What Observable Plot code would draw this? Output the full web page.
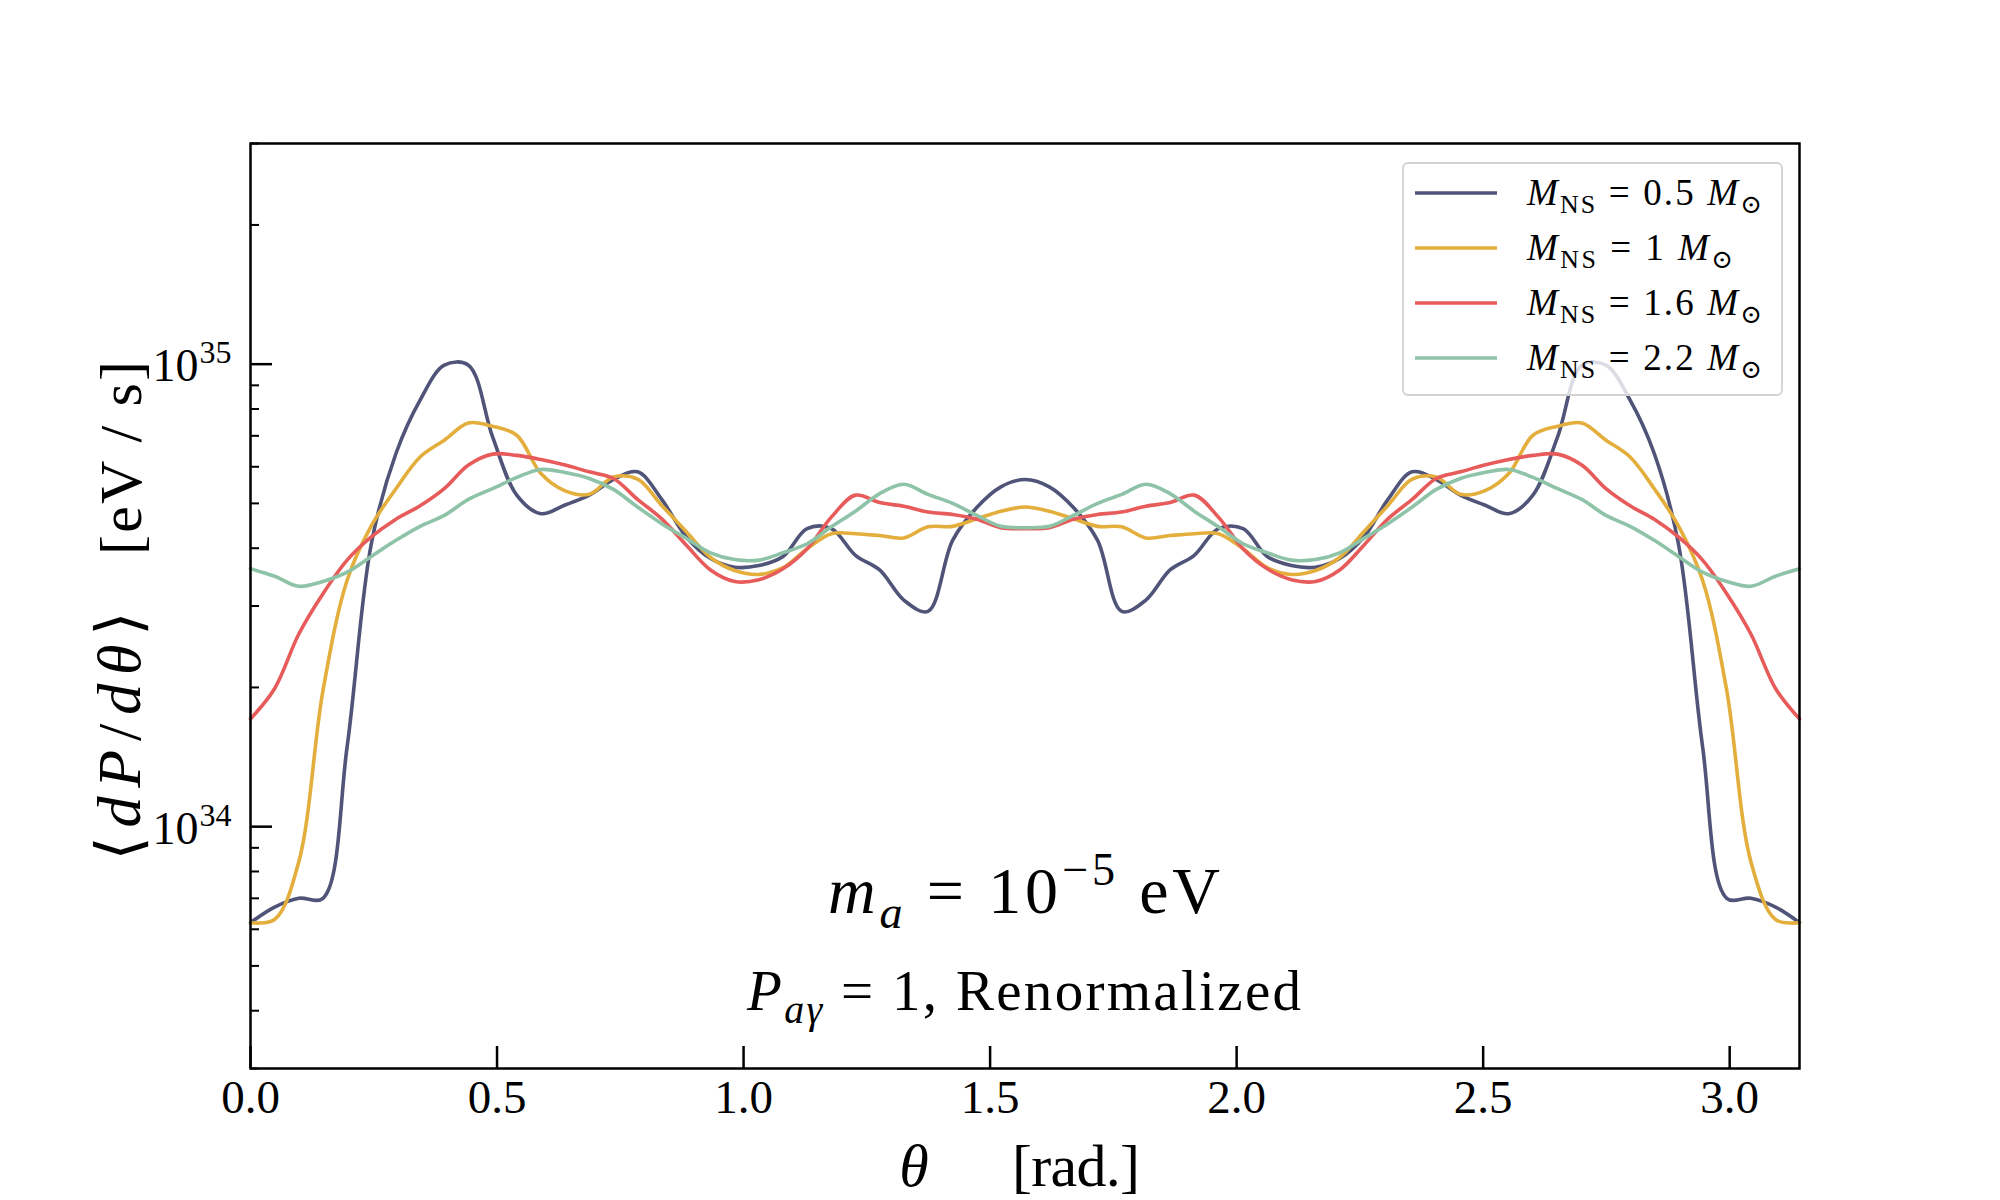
<!DOCTYPE html>
<html>
<head>
<meta charset="utf-8">
<script src="https://cdn.jsdelivr.net/npm/d3@7"></script>
<script src="https://cdn.jsdelivr.net/npm/@observablehq/plot@0.6"></script>
<style>
  html, body { margin: 0; padding: 0; background: #fff; }
  #chart { width: 2000px; height: 1200px; }
  text { white-space: pre; }
</style>
</head>
<body>
<div id="chart"></div>
<script>
// ---- data (values in units of 1e34 eV/s) ----
const theta = [0.000, 0.049, 0.098, 0.147, 0.196, 0.245, 0.295, 0.344, 0.393, 0.442, 0.491, 0.540, 0.589, 0.638, 0.687, 0.736, 0.785, 0.834, 0.884, 0.933, 0.982, 1.031, 1.080, 1.129, 1.178, 1.227, 1.276, 1.325, 1.374, 1.424, 1.473, 1.522, 1.571, 1.620, 1.669, 1.718, 1.767, 1.816, 1.865, 1.914, 1.963, 2.013, 2.062, 2.111, 2.160, 2.209, 2.258, 2.307, 2.356, 2.405, 2.454, 2.503, 2.552, 2.601, 2.651, 2.700, 2.749, 2.798, 2.847, 2.896, 2.945, 2.994, 3.043, 3.093, 3.1416];

const mass05 = [0.62, 0.67, 0.70, 0.70, 1.49, 4.09, 6.41, 8.36, 9.95, 9.95, 6.96, 5.21, 4.75, 4.96, 5.21, 5.63, 5.85, 5.10, 4.23, 3.80, 3.64, 3.67, 3.84, 4.41, 4.41, 3.86, 3.59, 3.09, 2.92, 4.16, 4.90, 5.43, 5.63,
                5.43, 4.90, 4.16, 2.92, 3.09, 3.59, 3.86, 4.41, 4.41, 3.84, 3.67, 3.64, 3.80, 4.23, 5.10, 5.85, 5.63, 5.21, 4.96, 4.75, 5.21, 6.96, 9.95, 9.95, 8.36, 6.41, 4.09, 1.49, 0.70, 0.70, 0.67, 0.62];

const mass10 = [0.62, 0.63, 0.84, 1.97, 3.41, 4.47, 5.38, 6.30, 6.85, 7.46, 7.34, 7.02, 5.80, 5.32, 5.23, 5.70, 5.64, 4.95, 4.34, 3.82, 3.58, 3.51, 3.63, 3.99, 4.30, 4.30, 4.26, 4.21, 4.45, 4.46, 4.63, 4.81, 4.91,
                4.81, 4.63, 4.46, 4.45, 4.21, 4.26, 4.30, 4.30, 3.99, 3.63, 3.51, 3.58, 3.82, 4.34, 4.95, 5.64, 5.70, 5.23, 5.32, 5.80, 7.02, 7.34, 7.46, 6.85, 6.30, 5.38, 4.47, 3.41, 1.97, 0.84, 0.63, 0.62];

const mass16 = [1.71, 1.99, 2.61, 3.19, 3.77, 4.23, 4.62, 4.94, 5.38, 6.05, 6.39, 6.35, 6.22, 6.05, 5.85, 5.66, 5.10, 4.63, 4.06, 3.59, 3.39, 3.42, 3.61, 3.99, 4.67, 5.21, 5.02, 4.93, 4.79, 4.73, 4.62, 4.43, 4.41,
                4.43, 4.62, 4.73, 4.79, 4.93, 5.02, 5.21, 4.67, 3.99, 3.61, 3.42, 3.39, 3.59, 4.06, 4.63, 5.10, 5.66, 5.85, 6.05, 6.22, 6.35, 6.39, 6.05, 5.38, 4.94, 4.62, 4.23, 3.77, 3.19, 2.61, 1.99, 1.71];

const mass22 = [3.61, 3.48, 3.31, 3.39, 3.55, 3.84, 4.16, 4.46, 4.71, 5.10, 5.38, 5.69, 5.92, 5.83, 5.66, 5.36, 4.91, 4.52, 4.20, 3.91, 3.78, 3.77, 3.91, 4.09, 4.45, 4.81, 5.25, 5.50, 5.23, 5.00, 4.71, 4.46, 4.43,
                4.46, 4.71, 5.00, 5.23, 5.50, 5.25, 4.81, 4.45, 4.09, 3.91, 3.77, 3.78, 3.91, 4.20, 4.52, 4.91, 5.36, 5.66, 5.83, 5.92, 5.69, 5.38, 5.10, 4.71, 4.46, 4.16, 3.84, 3.55, 3.39, 3.31, 3.48, 3.61];

const massLabels = ["0.5", "1", "1.6", "2.2"];
const colors = ["#4f5478", "#e3ae3b", "#e85b5b", "#8ec3a8"];
const seriesValues = [mass05, mass10, mass16, mass22];

const xTicks = [0, 0.5, 1.0, 1.5, 2.0, 2.5, 3.0];
const yMajor = [1, 10];
const yMinor = [0.3, 0.4, 0.5, 0.6, 0.7, 0.8, 0.9, 2, 3, 4, 5, 6, 7, 8, 9, 20, 30];

// ---- layout ----
const W = 2000, H = 1200, mL = 250, mR = 201, mT = 143, mB = 132;
const frameW = W - mL - mR, frameH = H - mT - mB;
const FONT = "'Liberation Serif', 'DejaVu Serif', serif";

const lineMarks = seriesValues.map((vals, k) =>
  Plot.line(theta.map((t, i) => ({t, v: vals[i]})), {
    x: "t", y: "v", stroke: colors[k], strokeWidth: 3.6, curve: "catmull-rom"
  })
);

const chart = Plot.plot({
  width: W, height: H,
  marginLeft: mL, marginRight: mR, marginTop: mT, marginBottom: mB,
  style: {background: "white", fontFamily: FONT, overflow: "visible"},
  x: {domain: [0, Math.PI], axis: null},
  y: {type: "log", domain: [0.3, 30], axis: null},
  marks: [
    ...lineMarks,
    Plot.tickX(xTicks, {x: d => d, stroke: "black", strokeWidth: 2.5, insetTop: frameH - 22}),
    Plot.tickY(yMajor, {y: d => d, stroke: "black", strokeWidth: 2.5, insetRight: frameW - 22}),
    Plot.tickY(yMinor, {y: d => d, stroke: "black", strokeWidth: 2, insetRight: frameW - 9}),
    Plot.text(xTicks, {x: d => d, text: d => d.toFixed(1), frameAnchor: "bottom", lineAnchor: "bottom",
      dy: 44, fontSize: 47, fontFamily: FONT, fill: "black"}),
    Plot.text(yMajor, {y: d => d, text: () => "10", frameAnchor: "left", textAnchor: "end", lineAnchor: "bottom",
      dx: -52, dy: 17, fontSize: 46, fontFamily: FONT, fill: "black"}),
    Plot.text(yMajor, {y: d => d, text: d => String(Math.round(Math.log10(d)) + 34), frameAnchor: "left",
      textAnchor: "start", lineAnchor: "bottom", dx: -51, dy: -1, fontSize: 32, fontFamily: FONT, fill: "black"}),
    Plot.frame({stroke: "black", strokeWidth: 2.5})
  ]
});
document.getElementById("chart").appendChild(chart);

// ---- rich text helpers (titles, annotations, legend) ----
const svg = d3.select(chart);
function rich(parent, {x, y, anchor = "start", size, parts, rotate, textLength}) {
  const t = parent.append("text")
    .attr("x", x).attr("y", y)
    .attr("text-anchor", anchor)
    .attr("font-size", size)
    .attr("font-family", FONT)
    .attr("fill", "black")
    .style("white-space", "pre");
  if (rotate) t.attr("transform", `rotate(${rotate},${x},${y})`);
  let shift = 0;
  for (const p of parts) {
    const s = p.sub ? size * 0.22 : p.sup ? -size * 0.42 : 0;
    const ts = t.append("tspan").text(p.t).attr("dy", s - shift);
    shift = s;
    if (p.sub || p.sup) ts.attr("font-size", size * 0.7);
    if (p.i) ts.attr("font-style", "italic");
  }
  if (textLength) t.attr("textLength", textLength).attr("lengthAdjust", "spacing");
  return t;
}

// annotations
rich(svg, {x: 1024, y: 913, anchor: "middle", size: 66, textLength: 392,
  parts: [{t: "m", i: true}, {t: "a", i: true, sub: true}, {t: " = 10"}, {t: "−5", sup: true}, {t: " eV"}]});
rich(svg, {x: 1024, y: 1010, anchor: "middle", size: 57, textLength: 554,
  parts: [{t: "P", i: true}, {t: "aγ", i: true, sub: true}, {t: " = 1, Renormalized"}]});

// x label
rich(svg, {x: 914, y: 1186, anchor: "middle", size: 60, parts: [{t: "θ", i: true}]});
rich(svg, {x: 1076, y: 1186, anchor: "middle", size: 60, textLength: 128, parts: [{t: "[rad.]"}]});

// y label
rich(svg, {x: 140, y: 736, anchor: "middle", size: 62, rotate: -90, textLength: 249,
  parts: [{t: "⟨"}, {t: "dP", i: true}, {t: "/"}, {t: "dθ", i: true}, {t: "⟩"}]});
rich(svg, {x: 141, y: 458, anchor: "middle", size: 60, rotate: -90, textLength: 194,
  parts: [{t: "[eV / s]"}]});

// legend
const lg = svg.append("g");
lg.append("rect").attr("x", 1403).attr("y", 163).attr("width", 379).attr("height", 232)
  .attr("rx", 5).attr("fill", "white").attr("fill-opacity", 0.8)
  .attr("stroke", "#d2d2d2").attr("stroke-width", 1.8);
const legendWidths = [235, 206, 235, 235];
massLabels.forEach((m, k) => {
  const yy = 193 + k * 55;
  lg.append("line").attr("x1", 1415).attr("x2", 1497).attr("y1", yy).attr("y2", yy)
    .attr("stroke", colors[k]).attr("stroke-width", 3.6);
  rich(lg, {x: 1527, y: yy + 12, size: 37, textLength: legendWidths[k],
    parts: [{t: "M", i: true}, {t: "NS", sub: true}, {t: " = " + m + " "}, {t: "M", i: true}, {t: "⊙", sub: true}]});
});
</script>
</body>
</html>
